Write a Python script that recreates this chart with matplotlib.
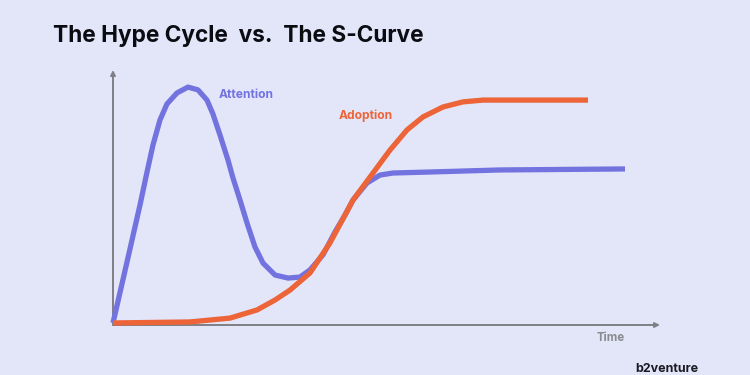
import matplotlib
matplotlib.use("Agg")
import matplotlib.pyplot as plt

# curve samples (time 0-100, level 0-100)
attention_x = [0, 2.56, 4.94, 6.22, 7.31, 8.59, 9.87, 11.70, 13.71, 15.54, 17.18, 18.28, 19.56,
               21.02, 21.94, 23.22, 24.50, 25.96, 27.42, 29.62, 32.00, 34.19, 36.01, 38.39,
               40.59, 42.41, 43.88, 46.44, 48.81, 51.19, 57.95, 70.75, 93.60]
attention_y = [0.8, 24.7, 47.1, 60.0, 70.6, 80.4, 86.7, 91.0, 93.3, 92.2, 88.2, 82.7, 74.5,
               64.7, 57.6, 49.0, 40.0, 30.6, 24.3, 19.6, 18.4, 18.8, 21.6, 27.5,
               36.5, 43.1, 49.0, 55.7, 58.8, 59.6, 60.0, 60.8, 61.2]

adoption_x = [0, 14.08, 21.39, 26.33, 29.62, 32.36, 36.01, 39.67, 43.88, 47.53, 50.64, 53.75,
              56.67, 60.33, 63.99, 67.64, 70.75, 86.84]
adoption_y = [0.8, 1.2, 2.7, 5.9, 9.8, 13.7, 20.4, 32.2, 49.0, 59.6, 68.6, 76.5,
              81.6, 85.5, 87.5, 88.2, 88.2, 88.2]

bg = "#E3E6F9"
blue = "#7373E0"
orange = "#EC6438"
grey = "#7F8084"

fig = plt.figure(figsize=(7.5, 3.75), dpi=100, facecolor=bg)
ax = fig.add_axes([113 / 750, 50 / 375, 547 / 750, 255 / 375])
ax.set_facecolor(bg)
ax.set_xlim(0, 100)
ax.set_ylim(0, 100)
for s in ax.spines.values():
    s.set_visible(False)
ax.set_xticks([])
ax.set_yticks([])

# axes with arrow heads
arrow = dict(arrowstyle='-|>', color=grey, lw=1.4, mutation_scale=7, shrinkA=0, shrinkB=0)
ax.annotate('', xy=(1, 0), xytext=(0, 0), xycoords='axes fraction', arrowprops=arrow)
ax.annotate('', xy=(0, 1), xytext=(0, 0), xycoords='axes fraction', arrowprops=arrow)

ax.plot(attention_x, attention_y, color=blue, lw=3.8, solid_joinstyle='round',
        solid_capstyle='butt', clip_on=False, zorder=3)
ax.plot(adoption_x, adoption_y, color=orange, lw=3.8, solid_joinstyle='round',
        solid_capstyle='butt', clip_on=False, zorder=4)

ax.text(24.3, 90.2, 'Attention', color=blue, fontsize=8.7, fontweight='bold',
        family='Inter', ha='center', va='center')
ax.text(46.3, 81.9, 'Adoption', color=orange, fontsize=8.7, fontweight='bold',
        family='Inter', ha='center', va='center')
ax.text(91.0, -5, 'Time', color='#8A8B90', fontsize=8.3, fontweight='bold',
        family='Inter', ha='center', va='center')

fig.text(53 / 750, 1 - 36 / 375, 'The Hype Cycle  vs.  The S-Curve', fontsize=16.3,
         fontweight='bold', family='Inter', color='#0B0B12', ha='left', va='center')
# logo text, kept just inside the bottom edge
fig.text(635 / 750, 1 - 372 / 375, 'b2venture', fontsize=9, fontweight='bold',
         family='Inter', color='#1A1A22', ha='left', va='baseline')

fig.savefig('out.png', dpi=100, facecolor=bg)
